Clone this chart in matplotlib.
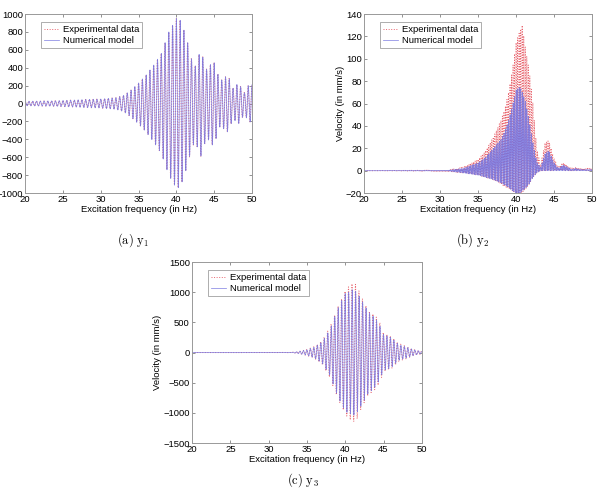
import numpy as np
import matplotlib
matplotlib.use("Agg")
import matplotlib.pyplot as plt

plt.rcParams['font.family'] = ['Liberation Sans', 'DejaVu Sans']
plt.rcParams['mathtext.fontset'] = 'cm'

# --- envelopes (frequency knots in Hz)
f_a = [20, 24, 28, 30, 32, 33, 34, 35, 36, 37, 38, 39, 40, 40.5, 41, 41.5, 42,
       42.5, 43.2, 44, 44.9, 45.8, 46.8, 47.5, 48.2, 49, 49.5, 50]
amp_a = [25, 30, 45, 50, 65, 90, 150, 230, 320, 430, 560, 800, 950, 930, 820,
         680, 500, 420, 600, 380, 480, 250, 320, 170, 230, 120, 200, 210]

f_b = [20, 31, 33, 35, 36, 37, 38, 38.5, 39, 39.5, 40, 40.5, 40.8, 41.2, 41.7,
       42.2, 42.7, 43.2, 43.8, 44.3, 44.9, 45.5, 46.2, 46.8, 47.3, 47.8, 48.5,
       49.5, 50]
exp_up_b = [0, 0.5, 3, 10, 18, 30, 45, 55, 70, 90, 115, 125, 130, 110, 90, 60,
            20, 5, 25, 27, 12, 3, 7, 4, 2, 3, 2, 2, 2]
exp_lo_b = [0, -0.5, -2, -4, -6, -8, -12, -14, -16, -18, -20, -20, -19, -17,
            -12, -6, -2, 0, 0, 0, 0, 0, 0, 0, 0, 0, 0, 0, 0]
num_up_b = [0, 0.3, 2, 7, 12, 20, 28, 35, 45, 58, 72, 75, 70, 62, 45, 25, 8, 3,
            15, 18, 8, 2, 5, 3, 1, 2, 1, 1, 1]
num_lo_b = [0, -0.3, -2, -4, -6, -8, -11, -13, -15, -18, -20, -20, -18, -16,
            -12, -6, -2, 0, 0, 0, 0, 0, 0, 0, 0, 0, 0, 0, 0]

f_c = [20, 33, 34, 35, 36, 37, 38, 39, 40, 40.5, 41, 41.5, 42, 43, 44, 44.5, 45,
       46, 47, 48, 49, 50]
exp_c = [0, 2, 20, 50, 100, 200, 420, 750, 1020, 1100, 1150, 1120, 950, 700, 600,
         500, 320, 270, 150, 100, 50, 20]
num_c = [0, 2, 20, 45, 90, 180, 380, 720, 980, 1000, 1050, 1000, 900, 680, 560,
         450, 300, 250, 130, 90, 45, 15]

red = '#e8646e'
blue = '#7474e0'

f = np.linspace(20, 50, 6000)


def signal(knots, up, lo, cycles, shift=0.0):
    u = np.interp(f, knots, up)
    l = np.interp(f, knots, lo)
    return (u + l) / 2 + (u - l) / 2 * np.cos(2 * np.pi * cycles * (f - 20) + shift)


fig = plt.figure(figsize=(6, 4.98), dpi=100)

axes_pos = [[0.042, 0.6124, 0.378, 0.3594],
            [0.607, 0.6124, 0.38, 0.3594],
            [0.32, 0.1104, 0.383, 0.3634]]

series = [
    (signal(f_a, amp_a, [-v for v in amp_a], 2.0, 0.2),
     signal(f_a, amp_a, [-v for v in amp_a], 2.0)),
    (signal(f_b, exp_up_b, exp_lo_b, 5.0, 0.4),
     signal(f_b, num_up_b, num_lo_b, 5.0)),
    (signal(f_c, exp_c, [-v for v in exp_c], 2.2, 0.35),
     signal(f_c, num_c, [-v for v in num_c], 2.2)),
]
ylims = [(-1000, 1000, 200), (-20, 140, 20), (-1500, 1500, 500)]
captions = [r'$\mathrm{(a)\ y_1}$', r'$\mathrm{(b)\ y_2}$', r'$\mathrm{(c)\ y_3}$']
cap_pos = [(0.222, 0.518), (0.787, 0.518), (0.505, 0.036)]

for i, pos in enumerate(axes_pos):
    ax = fig.add_axes(pos)
    y_exp, y_num = series[i]
    ax.plot(f, y_exp, ':', color=red, lw=0.7, label='Experimental data')
    ax.plot(f, y_num, '-', color=blue, lw=0.55, alpha=0.85, label='Numerical model')
    lo, hi, step = ylims[i]
    ax.set_xlim(20, 50)
    ax.set_ylim(lo, hi)
    ax.set_xticks(np.arange(20, 51, 5))
    ax.set_yticks(np.arange(lo, hi + 1, step))
    ax.tick_params(direction='in', top=True, right=True, labelsize=6.8,
                   length=2.5, width=0.5, pad=1.5, color='#666666')
    for s in ax.spines.values():
        s.set_color('#999999')
        s.set_linewidth(0.7)
    ax.set_xlabel('Excitation frequency (in Hz)', fontsize=6.8, labelpad=0.5)
    if i > 0:
        ax.set_ylabel('Velocity (in mm/s)', fontsize=6.8, labelpad=1)
    leg = ax.legend(loc='upper left', fontsize=6.8, handlelength=1.6,
                    handletextpad=0.4, borderpad=0.3, labelspacing=0.2,
                    fancybox=False, bbox_to_anchor=(0.05, 0.98))
    leg.get_frame().set_edgecolor('#888888')
    leg.get_frame().set_linewidth(0.6)
    fig.text(cap_pos[i][0], cap_pos[i][1], captions[i], fontsize=9,
             ha='center', va='center')

fig.savefig('out.png', dpi=100)
